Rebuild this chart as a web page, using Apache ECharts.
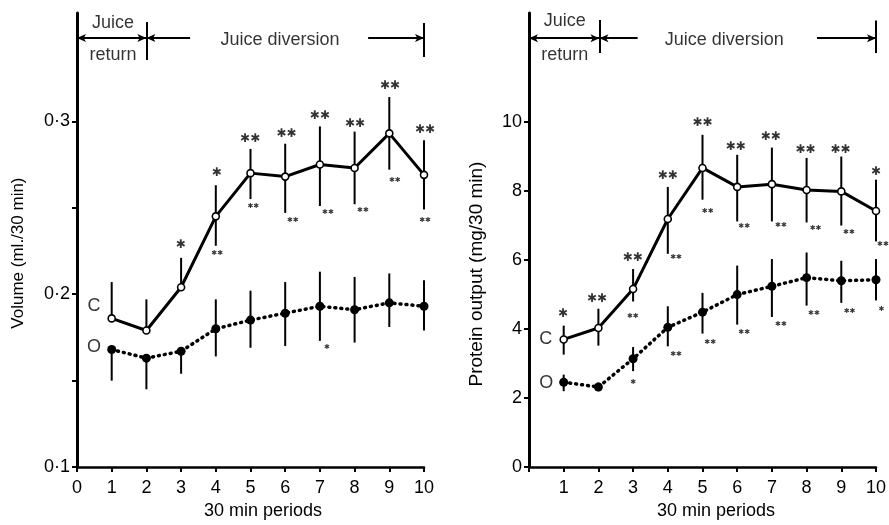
<!DOCTYPE html>
<html><head><meta charset="utf-8">
<script src="https://cdn.jsdelivr.net/npm/echarts@6/dist/echarts.min.js"></script>
<style>html,body{margin:0;padding:0;background:#fff}#c{width:889px;height:525px}</style>
</head><body><div id="c"></div>
<script>
// ---------- data ----------
const periods = [1, 2, 3, 4, 5, 6, 7, 8, 9, 10];

// Volume (ml./30 min)
const volC     = [0.186, 0.179, 0.204, 0.245, 0.270, 0.268, 0.275, 0.273, 0.293, 0.269];
const volCHigh = [0.207, 0.197, 0.221, 0.263, 0.284, 0.287, 0.297, 0.294, 0.314, 0.289];
const volCLow  = [0.186, 0.179, 0.204, 0.228, 0.255, 0.247, 0.251, 0.252, 0.272, 0.249];
const volO     = [0.168, 0.163, 0.167, 0.180, 0.185, 0.189, 0.193, 0.191, 0.195, 0.193];
const volOHigh = [0.168, 0.163, 0.167, 0.197, 0.202, 0.207, 0.213, 0.210, 0.212, 0.208];
const volOLow  = [0.150, 0.145, 0.154, 0.164, 0.169, 0.170, 0.173, 0.172, 0.181, 0.179];

// Protein output (mg/30 min)
const protC     = [3.70, 4.03, 5.16, 7.19, 8.67, 8.12, 8.20, 8.03, 7.99, 7.42];
const protCHigh = [4.10, 4.59, 5.74, 8.12, 9.63, 9.05, 9.26, 8.96, 9.00, 8.33];
const protCLow  = [3.26, 3.52, 4.80, 6.18, 7.75, 7.12, 7.12, 7.09, 7.00, 6.54];
const protO     = [2.46, 2.32, 3.14, 4.05, 4.49, 5.00, 5.24, 5.49, 5.40, 5.43];
const protOHigh = [2.68, 2.45, 3.48, 4.66, 5.05, 5.84, 6.03, 6.22, 5.98, 6.03];
const protOLow  = [2.20, 2.20, 2.78, 3.50, 3.87, 4.13, 4.35, 4.68, 4.76, 4.83];

// axis ticks / labels
const volXLabels  = [0, 1, 2, 3, 4, 5, 6, 7, 8, 9, 10];
const protXLabels = [1, 2, 3, 4, 5, 6, 7, 8, 9, 10];
const volYTicks   = [0.1, 0.15, 0.2, 0.25, 0.3];
const volYLabels  = [0.1, 0.2, 0.3];
const protYTicks  = [0, 2, 4, 6, 8, 10];
const protYLabels = [0, 2, 4, 6, 8, 10];

// significance marks [x, y, stars]
const volStarsBig = [[2.99, 0.2285, '*'], [4.03, 0.270, '*'], [4.99, 0.2896, '**'], [6.04, 0.2925, '**'],
  [7.0, 0.303, '**'], [8.01, 0.2984, '**'], [9.02, 0.3204, '**'], [10.03, 0.295, '**']];
const volStarsSmall = [[4.04, 0.2235, '**'], [5.08, 0.2506, '**'], [6.22, 0.243, '**'], [7.23, 0.2472, '**'],
  [8.24, 0.2483, '**'], [9.16, 0.266, '**'], [10.03, 0.243, '**'], [7.2, 0.1693, '*']];
const protStarsBig = [[0.98, 4.44, '*'], [1.96, 4.87, '**'], [2.99, 6.06, '**'], [4.0, 8.44, '**'],
  [5.0, 9.97, '**'], [5.96, 9.29, '**'], [6.97, 9.56, '**'], [7.97, 9.18, '**'], [8.98, 9.18, '**'], [10.0, 8.57, '*']];
const protStarsSmall = [[2.99, 4.37, '**'], [4.24, 6.08, '**'], [5.15, 7.43, '**'], [6.2, 6.98, '**'],
  [7.26, 7.02, '**'], [8.26, 6.93, '**'], [9.22, 6.80, '**'], [10.2, 6.45, '**'],
  [3.0, 2.47, '*'], [4.24, 3.28, '**'], [5.22, 3.62, '**'], [6.2, 3.91, '**'], [7.26, 4.15, '**'],
  [8.21, 4.47, '**'], [9.24, 4.52, '**'], [10.16, 4.58, '*']];

// text annotations [x, y, text]
const volTexts  = [[0.49, 0.1932, 'C'], [0.49, 0.1694, 'O'], [1.04, 0.3568, 'Juice'], [1.04, 0.3383, 'return'], [5.85, 0.347, 'Juice diversion']];
const protTexts = [[0.48, 3.70, 'C'], [0.50, 2.45, 'O'], [1.03, 12.94, 'Juice'], [1.03, 11.95, 'return'], [5.63, 12.38, 'Juice diversion']];

// bracket lines [x1, y1, x2, y2, arrowStart, arrowEnd]
const volBrackets = [[0, 0.3482, 2, 0.3482, 1, 1], [2, 0.3482, 3.26, 0.3482, 1, 0], [8.39, 0.3482, 10, 0.3482, 0, 1],
  [2, 0.3574, 2, 0.3354, 0, 0], [10, 0.3568, 10, 0.3372, 0, 0]];
const protBrackets = [[0, 12.43, 2.03, 12.43, 1, 1], [2.03, 12.43, 3.13, 12.43, 1, 0], [8.3, 12.43, 10, 12.43, 0, 1],
  [2.03, 12.96, 2.03, 12.0, 0, 0], [10, 12.94, 10, 12.0, 0, 0]];

// ---------- chart ----------
const FONT = 'Liberation Sans';
const chart = echarts.init(document.getElementById('c'));

function errRender(params, api) {
  const x = api.value(0), lo = api.value(1), hi = api.value(2);
  const p1 = api.coord([x, lo]), p2 = api.coord([x, hi]);
  return { type: 'line', shape: { x1: p1[0], y1: p1[1], x2: p2[0], y2: p2[1] },
    style: { stroke: '#000', lineWidth: 2 } };
}
function errSeries(i, lo, hi) {
  return { type: 'custom', xAxisIndex: i, yAxisIndex: i, renderItem: errRender, silent: true, z: 2,
    encode: { x: 0, y: [1, 2] }, data: periods.map((p, k) => [p, lo[k], hi[k]]) };
}
function cSeries(i, vals) {
  return { type: 'line', xAxisIndex: i, yAxisIndex: i, data: periods.map((p, k) => [p, vals[k]]), z: 4,
    symbol: 'circle', symbolSize: 7, showSymbol: true, silent: true,
    lineStyle: { color: '#000', width: 3 },
    itemStyle: { color: '#fff', borderColor: '#000', borderWidth: 1.6 } };
}
function oSeries(i, vals) {
  return { type: 'line', xAxisIndex: i, yAxisIndex: i, data: periods.map((p, k) => [p, vals[k]]), z: 4,
    symbol: 'circle', symbolSize: 9, silent: true,
    lineStyle: { color: '#000', width: 3.5, type: [1, 5], cap: 'round' },
    itemStyle: { color: '#000', borderColor: '#000', borderWidth: 0 } };
}
function labelSeries(i, data, fontSize, family, map) {
  return { type: 'scatter', xAxisIndex: i, yAxisIndex: i, data: data, symbolSize: 1, silent: true, clip: false, z: 6,
    itemStyle: { color: 'rgba(0,0,0,0)' },
    label: { show: true, position: 'inside', fontSize: fontSize, fontFamily: family, color: '#000',
      formatter: p => map ? map(p.data[2]) : p.data[2] } };
}
const starMap = s => s.replace(/\*/g, '\u2731');
function bracketData(list) {
  return list.map(b => [
    { coord: [b[0], b[1]], symbol: b[4] ? 'arrow' : 'none' },
    { coord: [b[2], b[3]], symbol: b[5] ? 'arrow' : 'none' }
  ]);
}
function textSeries(i, data, brackets) {
  const s = labelSeries(i, data, 18, FONT);
  s.markLine = { silent: true, symbolSize: [6, 9], animation: false,
    label: { show: false }, lineStyle: { color: '#000', width: 2, type: 'solid' },
    emphasis: { disabled: true }, data: bracketData(brackets) };
  return s;
}

function xAxis(i, labels, pad) {
  return { type: 'value', gridIndex: i, min: 0, max: 10, interval: 1,
    name: '30 min periods', nameLocation: 'middle', nameGap: 33,
    nameTextStyle: { fontFamily: FONT, fontSize: 18, color: '#000', padding: [0, 0, 0, pad] },
    axisLine: { onZero: false, lineStyle: { color: '#000', width: 2.5 } },
    axisTick: { show: true, length: 5, lineStyle: { color: '#000', width: 2 } },
    axisLabel: { customValues: labels, fontFamily: FONT, fontSize: 18, color: '#000', margin: 12 },
    splitLine: { show: false } };
}
function yAxis(i, min, max, interval, ticks, labels, fmt, name, gap, fs, pad) {
  return { type: 'value', gridIndex: i, min: min, max: max, interval: interval,
    name: name, nameLocation: 'middle', nameGap: gap,
    nameTextStyle: { fontFamily: FONT, fontSize: fs, color: '#000', padding: pad },
    axisLine: { show: true, onZero: false, lineStyle: { color: '#000', width: 3 } },
    axisTick: { show: true, length: 5, customValues: ticks, lineStyle: { color: '#000', width: 2 } },
    axisLabel: { customValues: labels, formatter: fmt, fontFamily: FONT, fontSize: 18, color: '#000', margin: 7 },
    splitLine: { show: false } };
}

chart.setOption({
  animation: false,
  backgroundColor: '#fff',
  grid: [
    { left: 77, top: 13, width: 347, height: 454.7 },
    { left: 529, top: 13, width: 348.5, height: 454.7 }
  ],
  xAxis: [xAxis(0, volXLabels, 25), xAxis(1, protXLabels, 27)],
  yAxis: [
    yAxis(0, 0.1, 0.3626, 0.05, volYTicks, volYLabels, v => v.toFixed(1).replace('.', '\u00b7'),
      'Volume (ml./30 min)', 50, 17, [0, 26, 0, 0]),
    yAxis(1, 0, 13.16, 2, protYTicks, protYLabels, v => String(v),
      'Protein output (mg/30 min)', 43, 19, [0, 68, 0, 0])
  ],
  series: [
    errSeries(0, volCLow, volCHigh), errSeries(0, volOLow, volOHigh),
    cSeries(0, volC), oSeries(0, volO),
    labelSeries(0, volStarsBig, 12, 'DejaVu Sans', starMap),
    labelSeries(0, volStarsSmall, 7, 'DejaVu Sans', starMap),
    textSeries(0, volTexts, volBrackets),
    errSeries(1, protCLow, protCHigh), errSeries(1, protOLow, protOHigh),
    cSeries(1, protC), oSeries(1, protO),
    labelSeries(1, protStarsBig, 12, 'DejaVu Sans', starMap),
    labelSeries(1, protStarsSmall, 7, 'DejaVu Sans', starMap),
    textSeries(1, protTexts, protBrackets)
  ]
});
</script>
</body></html>
